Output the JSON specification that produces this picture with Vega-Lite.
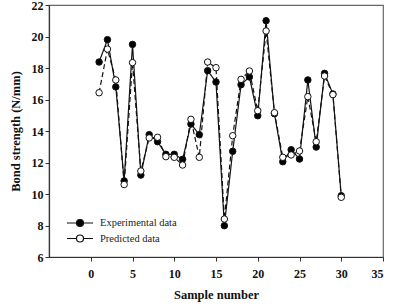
{
  "$schema": "https://vega.github.io/schema/vega-lite/v6.json",
  "width": 334,
  "height": 252,
  "autosize": "none",
  "padding": {"left": 49, "top": 5, "right": 10, "bottom": 51},
  "config": {
    "font": "Liberation Serif",
    "view": {"stroke": "#666", "strokeWidth": 1.2},
    "axis": {
      "grid": false,
      "domainColor": "#333",
      "domainWidth": 1.2,
      "tickColor": "#333",
      "tickSize": 4,
      "labelFont": "Liberation Serif",
      "labelFontWeight": "bold",
      "labelFontSize": 12,
      "labelColor": "#111",
      "titleFont": "Liberation Serif",
      "titleFontWeight": "bold",
      "titleFontSize": 12.5,
      "titleColor": "#111"
    }
  },
  "data": {
    "values": [
      {"sample": 1, "series": "Experimental data", "strength": 18.38},
      {"sample": 2, "series": "Experimental data", "strength": 19.8},
      {"sample": 3, "series": "Experimental data", "strength": 16.8},
      {"sample": 4, "series": "Experimental data", "strength": 10.83},
      {"sample": 5, "series": "Experimental data", "strength": 19.5},
      {"sample": 6, "series": "Experimental data", "strength": 11.2},
      {"sample": 7, "series": "Experimental data", "strength": 13.77},
      {"sample": 8, "series": "Experimental data", "strength": 13.32},
      {"sample": 9, "series": "Experimental data", "strength": 12.52},
      {"sample": 10, "series": "Experimental data", "strength": 12.52},
      {"sample": 11, "series": "Experimental data", "strength": 12.2},
      {"sample": 12, "series": "Experimental data", "strength": 14.44},
      {"sample": 13, "series": "Experimental data", "strength": 13.77},
      {"sample": 14, "series": "Experimental data", "strength": 17.83},
      {"sample": 15, "series": "Experimental data", "strength": 17.11},
      {"sample": 16, "series": "Experimental data", "strength": 7.99},
      {"sample": 17, "series": "Experimental data", "strength": 12.71},
      {"sample": 18, "series": "Experimental data", "strength": 16.94},
      {"sample": 19, "series": "Experimental data", "strength": 17.43},
      {"sample": 20, "series": "Experimental data", "strength": 14.97},
      {"sample": 21, "series": "Experimental data", "strength": 21.0},
      {"sample": 22, "series": "Experimental data", "strength": 15.1},
      {"sample": 23, "series": "Experimental data", "strength": 12.05},
      {"sample": 24, "series": "Experimental data", "strength": 12.81},
      {"sample": 25, "series": "Experimental data", "strength": 12.22},
      {"sample": 26, "series": "Experimental data", "strength": 17.24},
      {"sample": 27, "series": "Experimental data", "strength": 12.98},
      {"sample": 28, "series": "Experimental data", "strength": 17.66},
      {"sample": 29, "series": "Experimental data", "strength": 16.35},
      {"sample": 30, "series": "Experimental data", "strength": 9.89},
      {"sample": 1, "series": "Predicted data", "strength": 16.43},
      {"sample": 2, "series": "Predicted data", "strength": 19.2},
      {"sample": 3, "series": "Predicted data", "strength": 17.24},
      {"sample": 4, "series": "Predicted data", "strength": 10.6},
      {"sample": 5, "series": "Predicted data", "strength": 18.34},
      {"sample": 6, "series": "Predicted data", "strength": 11.46},
      {"sample": 7, "series": "Predicted data", "strength": 13.56},
      {"sample": 8, "series": "Predicted data", "strength": 13.6},
      {"sample": 9, "series": "Predicted data", "strength": 12.37},
      {"sample": 10, "series": "Predicted data", "strength": 12.33},
      {"sample": 11, "series": "Predicted data", "strength": 11.84},
      {"sample": 12, "series": "Predicted data", "strength": 14.74},
      {"sample": 13, "series": "Predicted data", "strength": 12.33},
      {"sample": 14, "series": "Predicted data", "strength": 18.38},
      {"sample": 15, "series": "Predicted data", "strength": 18.02},
      {"sample": 16, "series": "Predicted data", "strength": 8.41},
      {"sample": 17, "series": "Predicted data", "strength": 13.7},
      {"sample": 18, "series": "Predicted data", "strength": 17.28},
      {"sample": 19, "series": "Predicted data", "strength": 17.81},
      {"sample": 20, "series": "Predicted data", "strength": 15.29},
      {"sample": 21, "series": "Predicted data", "strength": 20.35},
      {"sample": 22, "series": "Predicted data", "strength": 15.16},
      {"sample": 23, "series": "Predicted data", "strength": 12.33},
      {"sample": 24, "series": "Predicted data", "strength": 12.48},
      {"sample": 25, "series": "Predicted data", "strength": 12.73},
      {"sample": 26, "series": "Predicted data", "strength": 16.18},
      {"sample": 27, "series": "Predicted data", "strength": 13.32},
      {"sample": 28, "series": "Predicted data", "strength": 17.49},
      {"sample": 29, "series": "Predicted data", "strength": 16.31},
      {"sample": 30, "series": "Predicted data", "strength": 9.79}
    ]
  },
  "encoding": {
    "x": {
      "field": "sample",
      "type": "quantitative",
      "title": "Sample number",
      "scale": {"domain": [-5, 35], "nice": false, "zero": false},
      "axis": {"values": [0, 5, 10, 15, 20, 25, 30, 35], "labelPadding": 7, "titlePadding": 9}
    },
    "y": {
      "field": "strength",
      "type": "quantitative",
      "title": "Bond strength (N/mm)",
      "scale": {"domain": [6, 22], "nice": false, "zero": false},
      "axis": {"values": [6, 8, 10, 12, 14, 16, 18, 20, 22], "labelPadding": 2, "titlePadding": 9}
    }
  },
  "layer": [
    {
      "mark": {"type": "line", "color": "#111", "strokeWidth": 1.2},
      "encoding": {
        "strokeDash": {
          "field": "series",
          "type": "nominal",
          "scale": {"range": [[1, 0], [5, 3]]},
          "legend": null
        }
      }
    },
    {
      "mark": {"type": "point", "filled": true, "size": 42, "stroke": "#111", "strokeWidth": 1, "opacity": 1},
      "encoding": {
        "fill": {
          "field": "series",
          "type": "nominal",
          "scale": {"range": ["#000000", "#ffffff"]},
          "legend": {
            "title": null,
            "orient": "bottom-left",
            "offset": 12,
            "symbolOffset": 11,
            "symbolSize": 196,
            "symbolType": "M-1.86,0L-0.52,0M0.52,0L1.86,0M0.5,0A0.5,0.5 0 1,1 -0.5,0A0.5,0.5 0 1,1 0.5,0Z",
            "symbolStrokeColor": "#111",
            "symbolStrokeWidth": 1.2,
            "labelFont": "Liberation Serif",
            "labelFontSize": 10.5,
            "labelColor": "#222",
            "labelOffset": 12,
            "rowPadding": 1.5
          }
        }
      }
    }
  ]
}
